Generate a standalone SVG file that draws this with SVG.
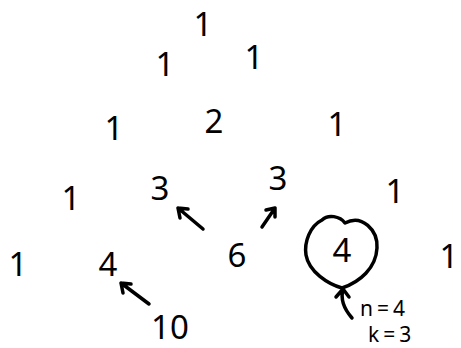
<svg xmlns="http://www.w3.org/2000/svg" width="461" height="348" viewBox="0 0 461 348">
<style>
text{font-family:"Noto Sans","DejaVu Sans",sans-serif;font-size:33px;fill:#000;text-anchor:middle}
.sm{font-size:21px;letter-spacing:4px;text-anchor:start}
.ink{fill:none;stroke:#000;stroke-width:3.5;stroke-linecap:round;stroke-linejoin:round}
</style>
<rect width="461" height="348" fill="#fff"/>
<g id="r0"><text x="203" y="36">1</text></g>
<g id="r1a"><text x="165" y="76">1</text></g>
<g id="r1b"><text x="254" y="69">1</text></g>
<g id="r2a"><text x="114" y="140">1</text></g>
<g id="r2b"><text x="214" y="133">2</text></g>
<g id="r2c"><text x="337" y="136">1</text></g>
<g id="r3a"><text x="71" y="210">1</text></g>
<g id="r3b"><text x="160" y="200">3</text></g>
<g id="r3c"><text x="278" y="190">3</text></g>
<g id="r3d"><text x="395" y="203">1</text></g>
<g id="r4a"><text x="18" y="276">1</text></g>
<g id="r4b"><text x="108" y="276">4</text></g>
<g id="r4c"><text x="237" y="267">6</text></g>
<g id="r4d"><path class="ink" d="M322,220 C310,226 304,242 306,255 C309,272 328,284 342,288 C360,282 376,268 377,248 C378,230 362,214 345,223 C340,216 328,214 322,220"/><text x="342" y="262">4</text></g>
<g id="r4e"><text x="449" y="268">1</text></g>
<g id="r5"><text x="170" y="339">10</text></g>
<g id="label"><text class="sm" x="360" y="316">n=4</text><text class="sm" x="368" y="342">k=3</text></g>
<g id="connectors">
<path class="ink" d="M149,304 L121,283 M121,283 L123,293 M121,283 L131,284"/>
<path class="ink" d="M203,229 L178,208 M178,208 L180,218 M178,208 L188,209"/>
<path class="ink" d="M262,227 L275,208 M275,208 L266,210 M275,208 L275,217"/>
<path class="ink" d="M352,318 C345,310 340,300 343,289 M343,289 L336,297 M343,289 L349,297"/>
</g>
</svg>
